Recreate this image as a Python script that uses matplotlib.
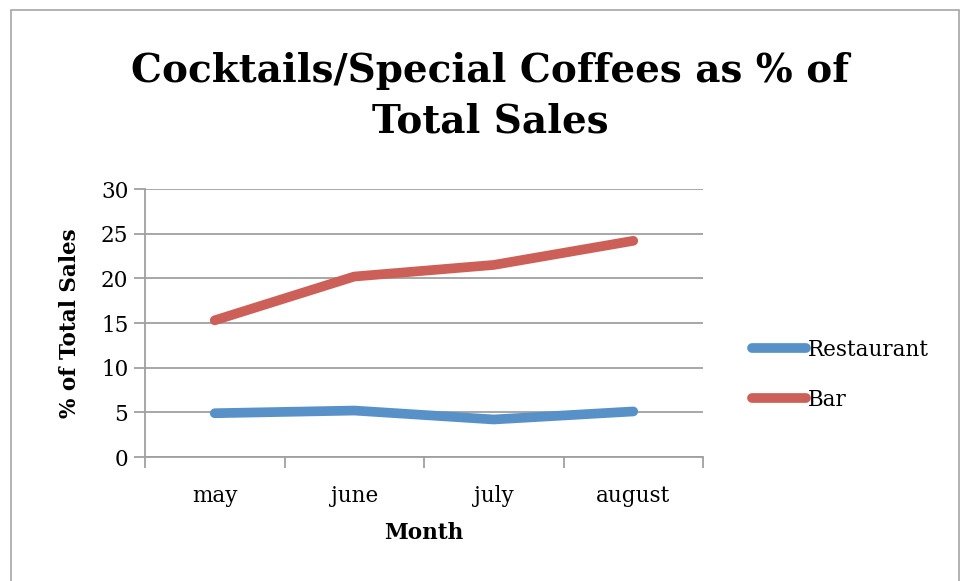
import matplotlib
matplotlib.use('Agg')
import matplotlib.pyplot as plt
from matplotlib.patches import Rectangle

plt.rcParams['font.family'] = ['DejaVu Serif']

months = ['may', 'june', 'july', 'august']
restaurant = [4.9, 5.2, 4.2, 5.1]
bar = [15.3, 20.2, 21.5, 24.2]

W, H = 962, 581
fig = plt.figure(figsize=(W / 100, H / 100), dpi=100)

# outer chart frame (left/top/right visible)
fig.patches.append(Rectangle((11 / W, -0.05), (959 - 11) / W, 1.05 - 10 / H,
                             transform=fig.transFigure, fill=False,
                             edgecolor='#a6a6a6', linewidth=1.2))

ax = fig.add_axes([145 / W, 1 - 457 / H, (703 - 145) / W, (457 - 189) / H])

x = range(len(months))
ax.plot(x, restaurant, color='#5891c8', linewidth=7, solid_capstyle='round',
        solid_joinstyle='round', label='Restaurant')
ax.plot(x, bar, color='#cc6058', linewidth=7, solid_capstyle='round',
        solid_joinstyle='round', label='Bar')

ax.set_xlim(-0.5, 3.5)
ax.set_ylim(0, 30)
ax.set_yticks(range(0, 31, 5))
ax.set_xticks(list(x))
ax.set_xticklabels(months)
ax.set_xticks([i - 0.5 for i in range(5)], minor=True)
ax.tick_params(axis='x', which='major', length=0, pad=20, labelsize=15.5)
ax.tick_params(axis='x', which='minor', length=8, width=1.3, color='#a0a0a0')
ax.tick_params(axis='y', length=8, width=1.3, color='#a0a0a0', labelsize=15.5, pad=4)

ax.grid(axis='y', color='#a0a0a0', linewidth=1.3)
ax.set_axisbelow(True)
for s in ['top', 'right']:
    ax.spines[s].set_visible(False)
for s in ['left', 'bottom']:
    ax.spines[s].set_color('#a0a0a0')
    ax.spines[s].set_linewidth(1.3)

fig.text(490 / W, 1 - 96 / H, 'Cocktails/Special Coffees as % of\nTotal Sales',
         ha='center', va='center', fontsize=28, fontweight='bold', linespacing=1.42)
fig.text(70 / W, 1 - 323 / H, '% of Total Sales', rotation=90, ha='center',
         va='center', fontsize=15.5, fontweight='bold')
fig.text(424 / W, 1 - 533 / H, 'Month', ha='center', va='center',
         fontsize=15.5, fontweight='bold')

ax.legend(loc='center left', bbox_to_anchor=(733 / W, 1 - 375 / H),
          bbox_transform=fig.transFigure, frameon=False, fontsize=15.5,
          handlelength=2.5, handletextpad=0.1, labelspacing=1.3)

fig.savefig('out.png', dpi=100)
